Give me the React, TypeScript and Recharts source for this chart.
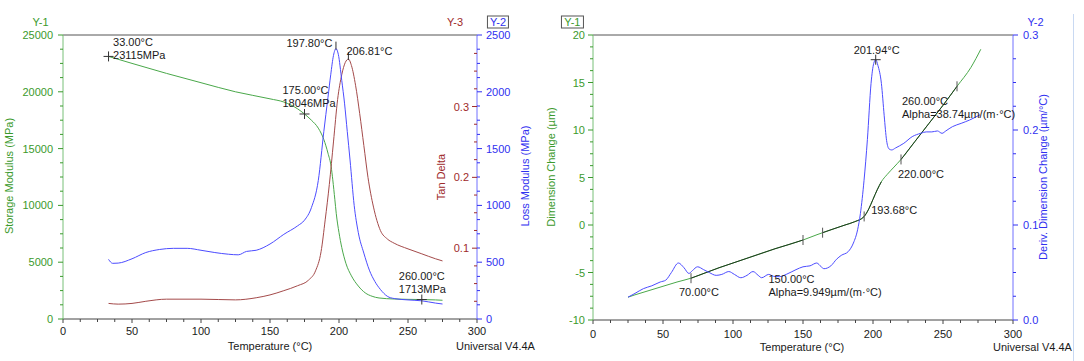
import React from 'react';
import { LineChart, Line, XAxis, YAxis, ReferenceDot, ReferenceLine } from 'recharts';

const FONT = '"Liberation Sans", Arial, Helvetica, sans-serif';
const GREEN = '#3b9a2c';
const GREEN_LINE = '#4aa84a';
const GREEN_AXIS = '#78c078';
const BLUE = '#3030f0';
const BLUE_LINE = '#4c4cff';
const BLUE_AXIS = '#7070ff';
const RED = '#9e2a2a';
const RED_LINE = '#a44a4a';
const FIT = '#1f3a1f';
const INK = '#1a1a1a';

// ---- DMA (left) ----
const storageT = [33, 50, 75, 100, 125, 150, 160, 170, 175, 180, 185, 189, 192, 194.3, 195.5, 197, 198, 200, 202, 205, 209, 214, 219, 224, 229, 240, 250, 260, 270, 275];
const storageMPa = [23115, 22500, 21620, 20800, 20000, 19380, 19100, 18500, 18046, 17500, 16800, 15800, 14600, 13420, 12250, 10500, 9300, 7600, 6300, 4900, 3800, 2900, 2300, 2000, 1850, 1760, 1730, 1713, 1680, 1650];

const lossT = [33, 36, 40, 50, 60, 70, 80, 90, 100, 110, 120, 127, 133, 140, 150, 160, 170, 175, 180, 185, 189, 192, 194, 196, 197.8, 199.5, 202, 204, 206, 208, 211, 214, 218, 222, 226, 230, 235, 240, 250, 260, 270, 275];
const lossMPa = [525, 490, 492, 530, 585, 612, 622, 622, 605, 585, 570, 565, 595, 605, 660, 745, 820, 870, 980, 1220, 1650, 1950, 2150, 2320, 2380, 2330, 2100, 1900, 1650, 1400, 1000, 760, 580, 430, 330, 260, 200, 180, 168, 160, 140, 132];

const tanT = [33, 40, 50, 60, 75, 100, 125, 140, 150, 160, 170, 178, 183, 187, 190, 193, 196, 199, 202, 204.5, 206.81, 209, 212, 215, 218, 221, 225, 230, 235, 240, 250, 260, 270, 275];
const tanDelta = [0.022, 0.021, 0.022, 0.025, 0.028, 0.028, 0.027, 0.03, 0.034, 0.04, 0.047, 0.055, 0.068, 0.095, 0.14, 0.19, 0.25, 0.31, 0.345, 0.362, 0.367, 0.358, 0.33, 0.29, 0.245, 0.2, 0.158, 0.125, 0.113, 0.107, 0.099, 0.092, 0.085, 0.082];

// ---- TMA (right) ----
const dimT = [25, 30, 40, 50, 60, 70, 80, 90, 100, 110, 120, 130, 140, 150, 160, 164, 170, 180, 187, 193.68, 197, 200, 203, 206, 210, 215, 220, 230, 240, 250, 260, 270, 277];
const dimUm = [-7.6, -7.35, -6.9, -6.45, -6.0, -5.6, -5.05, -4.5, -4.0, -3.5, -3.0, -2.5, -2.05, -1.58, -1.02, -0.81, -0.5, 0.0, 0.35, 0.9, 1.7, 2.7, 3.7, 4.56, 5.3, 6.1, 6.9, 8.8, 10.7, 12.6, 14.6, 16.6, 18.5];

const derivT = [25, 30, 36, 42, 48, 52, 56, 61, 65, 68.5, 71, 74.7, 79, 83, 88, 92, 97, 101, 105.6, 110, 114.3, 118, 120.5, 125.5, 129, 133, 138, 145, 150, 155, 159.8, 163, 165, 169.9, 174, 177.3, 182.3, 186, 189, 191, 193.6, 196, 198.6, 200.5, 201.94, 203.5, 206, 208, 209.7, 211.5, 213.4, 216, 222, 228, 234, 238, 242, 246, 249.3, 252, 256.7, 263, 269, 276.4];
const derivVal = [0.024, 0.028, 0.033, 0.036, 0.04, 0.042, 0.05, 0.06, 0.055, 0.049, 0.052, 0.056, 0.053, 0.05, 0.047, 0.048, 0.051, 0.048, 0.0445, 0.047, 0.051, 0.047, 0.0445, 0.048, 0.046, 0.0456, 0.048, 0.053, 0.056, 0.057, 0.06, 0.056, 0.054, 0.057, 0.064, 0.068, 0.072, 0.081, 0.095, 0.112, 0.147, 0.19, 0.249, 0.27, 0.274, 0.268, 0.249, 0.215, 0.189, 0.18, 0.179, 0.181, 0.186, 0.193, 0.1965, 0.198, 0.198, 0.199, 0.1965, 0.199, 0.2035, 0.207, 0.2105, 0.216];

// temperature ranges drawn with the dark fit line
const fitRanges = [[70, 150], [164, 206], [220, 260]];

// tick labels
const xMajors = [0, 50, 100, 150, 200, 250, 300];
const storageMajors = [0, 5000, 10000, 15000, 20000, 25000];
const lossMajors = [0, 500, 1000, 1500, 2000, 2500];
const tanMajors = [0.1, 0.2, 0.3];
const dimMajors = [-10, -5, 0, 5, 10, 15, 20];
const derivMajors = [0, 0.1, 0.2, 0.3];

// annotations
const dmaMarks = [
  { t: 33, v: 23115, axis: 'y1', kind: 'cross', lines: ['33.00°C', '23115MPa'] },
  { t: 175, v: 18046, axis: 'y1', kind: 'cross', lines: ['175.00°C', '18046MPa'] },
  { t: 260, v: 1713, axis: 'y1', kind: 'cross', lines: ['260.00°C', '1713MPa'] },
  { t: 197.8, v: 2380, axis: 'y2', kind: 'peak', lines: ['197.80°C'] },
  { t: 206.81, v: 0.367, axis: 'y3', kind: 'peak', lines: ['206.81°C'] },
];
const tmaMarks = [
  { t: 70, v: -5.6, axis: 'y1', kind: 'tick', lines: ['70.00°C'] },
  { t: 150, v: -1.58, axis: 'y1', kind: 'tick', lines: ['150.00°C', 'Alpha=9.949µm/(m·°C)'] },
  { t: 164, v: -0.81, axis: 'y1', kind: 'tick', lines: [] },
  { t: 193.68, v: 0.9, axis: 'y1', kind: 'tick', lines: ['193.68°C'] },
  { t: 220, v: 6.9, axis: 'y1', kind: 'tick', lines: ['220.00°C'] },
  { t: 260, v: 14.6, axis: 'y1', kind: 'tick', lines: ['260.00°C', 'Alpha=38.74µm/(m·°C)'] },
  { t: 201.94, v: 0.274, axis: 'y2', kind: 'cross', lines: ['201.94°C'] },
];

// label offsets from the marker (px): dx, first-line dy, anchor
const dmaLabelPos: [number, number, string][] = [[4.5, -14, 'start'], [-22, -24, 'start'], [-23, -24, 'start'], [-3.5, -6, 'end'], [-2, -8, 'start']];
const tmaLabelPos: [number, number, string][] = [[-12, 13.5, 'start'], [-34.5, 39, 'start'], [0, 0, 'start'], [7, -6, 'start'], [-3, 14.5, 'start'], [-55, 15, 'start']];
const tmaPeakPos: [number, number, string] = [-22, -9.5, 'start'];

const zip = (ts: number[], vs: number[]) => ts.map((t, i) => ({ t, v: vs[i] }));

// majors plus 4 subdivisions between each pair
const withMinors = (majors: number[], extraTop = 0) => {
  const step = majors[1] - majors[0];
  const out: number[] = [];
  const last = majors[majors.length - 1] + extraTop;
  for (let i = 0; majors[0] + (i * step) / 4 <= last + 1e-9; i++) out.push(+(majors[0] + (i * step) / 4).toFixed(6));
  return out;
};

const isIn = (v: number, list: number[]) => list.some((m) => Math.abs(m - v) < 1e-9);

const yTick = (majors: number[], dir: number, color: string, digits: number, gap = 9) => (props: any) => {
  const { x, y, payload } = props;
  const v = payload.value;
  const major = isIn(v, majors);
  return (
    <g>
      <line x1={x} y1={y} x2={x + dir * (major ? 5 : 3)} y2={y} stroke={color} strokeWidth={1} />
      {major && (
        <text x={x + dir * gap} y={y} textAnchor={dir > 0 ? 'start' : 'end'} dominantBaseline="central" fill={color} fontSize={11} fontFamily={FONT}>
          {v.toFixed(digits)}
        </text>
      )}
    </g>
  );
};

// tan delta scale sits on the Y-2 line, drawn inward
const tanTickShape = (v: number) => (p: any) => {
  const { cx, cy } = p;
  if (cx == null || cy == null) return <g />;
  const major = isIn(v, tanMajors);
  return (
    <g>
      <line x1={cx} y1={cy} x2={cx - (major ? 5 : 3)} y2={cy} stroke={RED} strokeWidth={1} />
      {major && (
        <text x={cx - 8} y={cy} textAnchor="end" dominantBaseline="central" fill={RED} fontSize={11} fontFamily={FONT}>
          {v.toFixed(1)}
        </text>
      )}
    </g>
  );
};

const xTick = (labelDy: number) => (props: any) => {
  const { x, y, payload } = props;
  const v = payload.value;
  const major = isIn(v, xMajors);
  return (
    <g>
      <line x1={x} y1={y} x2={x} y2={y + (major ? 4 : 3)} stroke="#444" strokeWidth={1} />
      {major && (
        <text x={x} y={y + labelDy} textAnchor="middle" dominantBaseline="central" fill={INK} fontSize={11} fontFamily={FONT}>
          {v}
        </text>
      )}
    </g>
  );
};

const markShape = (kind: string, lines: string[], pos: [number, number, string]) => (p: any) => {
  const { cx, cy } = p;
  if (cx == null || cy == null) return <g />;
  const [dx, dy, anchor] = pos;
  return (
    <g>
      {kind === 'cross' && <path d={`M${cx - 5},${cy}H${cx + 5}M${cx},${cy - 5}V${cy + 5}`} stroke="#333" strokeWidth={1} />}
      {kind === 'tick' && <path d={`M${cx},${cy - 5}V${cy + 5}`} stroke="#555" strokeWidth={1} />}
      {kind === 'peak' && <path d={`M${cx},${cy - 7}V${cy + 1}`} stroke="#333" strokeWidth={1} />}
      {lines.map((s, i) => (
        <text key={i} x={cx + dx} y={cy + dy + i * 13} textAnchor={anchor as any} dominantBaseline="central" fill={INK} fontSize={11} fontFamily={FONT}>
          {s}
        </text>
      ))}
    </g>
  );
};

const txt = (s: string, x: number, y: number, color: string, rotate = false, boxed = false) => (
  <div
    style={{
      position: 'absolute',
      left: x,
      top: y,
      transform: `translate(-50%, -50%)${rotate ? ' rotate(-90deg)' : ''}`,
      whiteSpace: 'nowrap',
      fontFamily: FONT,
      fontSize: 11,
      lineHeight: '11px',
      color,
      border: boxed ? '1px solid #555' : 'none',
      padding: boxed ? '0 2px' : 0,
    }}
  >
    {s}
  </div>
);

function DmaChart() {
  return (
    <LineChart width={540} height={361} margin={{ top: 35, right: 13, bottom: 12, left: 0 }}>
      <XAxis dataKey="t" type="number" domain={[0, 300]} ticks={withMinors(xMajors)} interval={0} height={30} tickSize={0} tickMargin={0} tickLine={false} tick={xTick(12)} axisLine={{ stroke: '#444' }} allowDataOverflow />
      <YAxis yAxisId="y1" orientation="left" width={63} domain={[0, 25000]} ticks={withMinors(storageMajors)} interval={0} tickSize={0} tickMargin={0} tickLine={false} tick={yTick(storageMajors, -1, GREEN, 0, 10)} axisLine={{ stroke: GREEN_AXIS }} allowDataOverflow />
      <YAxis yAxisId="y2" orientation="right" width={50} domain={[0, 2500]} ticks={withMinors(lossMajors)} interval={0} tickSize={0} tickMargin={0} tickLine={false} tick={yTick(lossMajors, 1, BLUE, 0, 9)} axisLine={{ stroke: BLUE_AXIS }} allowDataOverflow />
      <YAxis yAxisId="y3" hide domain={[0, 0.401]} allowDataOverflow />
      <ReferenceLine yAxisId="y1" y={25000} stroke="#555" />
      <Line yAxisId="y1" data={zip(storageT, storageMPa)} dataKey="v" type="monotone" stroke={GREEN_LINE} strokeWidth={1} dot={false} isAnimationActive={false} />
      <Line yAxisId="y3" data={zip(tanT, tanDelta)} dataKey="v" type="monotone" stroke={RED_LINE} strokeWidth={1} dot={false} isAnimationActive={false} />
      <Line yAxisId="y2" data={zip(lossT, lossMPa)} dataKey="v" type="monotone" stroke={BLUE_LINE} strokeWidth={1} dot={false} isAnimationActive={false} />
      {withMinors([0, 0.1, 0.2, 0.3], 0.075).slice(1).map((v) => (
        <ReferenceDot key={`tan-${v}`} yAxisId="y3" x={300} y={v} r={0} ifOverflow="visible" shape={tanTickShape(v)} />
      ))}
      {dmaMarks.map((m, i) => (
        <ReferenceDot key={i} yAxisId={m.axis} x={m.t} y={m.v} r={0} shape={markShape(m.kind, m.lines, dmaLabelPos[i])} />
      ))}
    </LineChart>
  );
}

function TmaChart() {
  const dim = zip(dimT, dimUm);
  return (
    <LineChart width={544} height={361} margin={{ top: 35, right: 21, bottom: 11, left: 0 }}>
      <XAxis dataKey="t" type="number" domain={[0, 300]} ticks={withMinors(xMajors)} interval={0} height={30} tickSize={0} tickMargin={0} tickLine={false} tick={xTick(13.5)} axisLine={{ stroke: '#444' }} allowDataOverflow />
      <YAxis yAxisId="y1" orientation="left" width={53} domain={[-10, 20]} ticks={withMinors(dimMajors)} interval={0} tickSize={0} tickMargin={0} tickLine={false} tick={yTick(dimMajors, -1, GREEN, 0, 8)} axisLine={{ stroke: GREEN_AXIS }} allowDataOverflow />
      <YAxis yAxisId="y2" orientation="right" width={50} domain={[0, 0.3]} ticks={withMinors(derivMajors)} interval={0} tickSize={0} tickMargin={0} tickLine={false} tick={yTick(derivMajors, 1, BLUE, 1, 10)} axisLine={{ stroke: BLUE_AXIS }} allowDataOverflow />
      <ReferenceLine yAxisId="y1" y={20} stroke="#555" />
      <Line yAxisId="y1" data={dim} dataKey="v" type="monotone" stroke={GREEN_LINE} strokeWidth={1} dot={false} isAnimationActive={false} />
      {fitRanges.map(([a, b], i) => (
        <Line key={i} yAxisId="y1" data={dim.filter((d) => d.t >= a && d.t <= b)} dataKey="v" type="monotone" stroke={FIT} strokeWidth={1} dot={false} isAnimationActive={false} />
      ))}
      <Line yAxisId="y2" data={zip(derivT, derivVal)} dataKey="v" type="monotone" stroke={BLUE_LINE} strokeWidth={1} dot={false} isAnimationActive={false} />
      {tmaMarks.map((m, i) => (
        <ReferenceDot key={i} yAxisId={m.axis} x={m.t} y={m.v} r={0} shape={markShape(m.kind, m.lines, m.axis === 'y2' ? tmaPeakPos : tmaLabelPos[i])} />
      ))}
    </LineChart>
  );
}

export default function App() {
  return (
    <div style={{ position: 'absolute', left: 0, top: 0, width: 1084, height: 361, background: '#fff', overflow: 'hidden' }}>
      <div style={{ position: 'absolute', left: 0, top: 0 }}>
        <DmaChart />
      </div>
      <div style={{ position: 'absolute', left: 540, top: 0 }}>
        <TmaChart />
      </div>
      {txt('Y-1', 40.5, 21.5, GREEN)}
      {txt('Y-3', 455, 21.5, RED)}
      {txt('Y-2', 498, 21.5, BLUE, false, true)}
      {txt('Storage Modulus (MPa)', 8.6, 176, GREEN, true)}
      {txt('Tan Delta', 441, 176.5, RED, true)}
      {txt('Loss Modulus (MPa)', 525, 176, BLUE, true)}
      {txt('Temperature (°C)', 270, 345.7, INK)}
      {txt('Universal V4.4A', 495.5, 345.7, INK)}

      {txt('Y-1', 572.4, 21.7, GREEN, false, true)}
      {txt('Y-2', 1035.5, 21.7, BLUE)}
      {txt('Dimension Change (µm)', 551, 167, GREEN, true)}
      {txt('Deriv. Dimension Change (µm/°C)', 1042.6, 176.5, BLUE, true)}
      {txt('Temperature (°C)', 802, 347.3, INK)}
      {txt('Universal V4.4A', 1032.5, 347.3, INK)}
      <div style={{ position: 'absolute', left: 1073, top: 14, width: 1, height: 347, background: '#c9d9f2' }} />
    </div>
  );
}
